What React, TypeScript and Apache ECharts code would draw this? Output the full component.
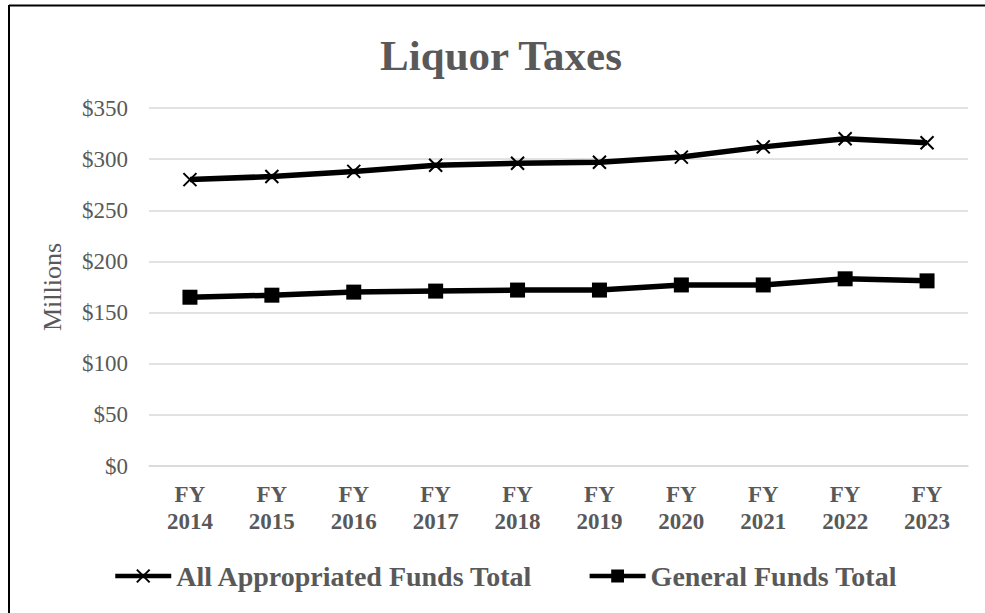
import React, { useEffect, useRef } from "react";
import * as echarts from "echarts";

const categories = ["FY\n2014", "FY\n2015", "FY\n2016", "FY\n2017", "FY\n2018", "FY\n2019", "FY\n2020", "FY\n2021", "FY\n2022", "FY\n2023"];
const allAppropriated = [280, 283, 288, 294, 296, 297, 302, 312, 320, 316];
const generalFunds = [165, 167, 170, 171, 172, 172, 177, 177, 183, 181];
const seriesNames = ["All Appropriated Funds Total", "General Funds Total"];

const FONT = "'Liberation Serif', 'Times New Roman', serif";
const GREY = "#595959";

export default function App() {
  const ref = useRef<HTMLDivElement>(null);
  useEffect(() => {
    if (!ref.current) return;
    const chart = echarts.init(ref.current, undefined, { renderer: "svg" });
    chart.setOption({
      animation: false,
      backgroundColor: "#ffffff",
      title: {
        text: "Liquor Taxes",
        left: 496,
        textAlign: "center",
        top: 29,
        textStyle: { fontFamily: FONT, fontSize: 43, fontWeight: "bold", color: GREY },
      },
      graphic: [
        { type: "line", shape: { x1: 9, y1: 5.5, x2: 985, y2: 5.5 }, style: { stroke: "#000", lineWidth: 2 } },
        { type: "line", shape: { x1: 9, y1: 5, x2: 9, y2: 613 }, style: { stroke: "#000", lineWidth: 2 } },
      ],
      legend: {
        left: 113,
        top: 562,
        padding: 0,
        itemWidth: 56,
        itemHeight: 16,
        itemGap: 54,
        data: seriesNames,
        lineStyle: { width: 4.5, color: "#000" },
        textStyle: { fontFamily: FONT, fontSize: 28, fontWeight: "bold", color: GREY },
      },
      grid: { left: 149, right: 17, top: 108, bottom: 147 },
      xAxis: {
        type: "category",
        data: categories,
        boundaryGap: true,
        axisLine: { show: true, lineStyle: { color: "#d9d9d9", width: 1.5 } },
        axisTick: { show: false },
        axisLabel: {
          fontFamily: FONT,
          fontSize: 23,
          fontWeight: "bold",
          color: GREY,
          lineHeight: 27,
          margin: 15,
          interval: 0,
        },
      },
      yAxis: {
        type: "value",
        min: 0,
        max: 350,
        interval: 50,
        name: "Millions",
        nameLocation: "middle",
        nameGap: 84,
        nameTextStyle: { fontFamily: FONT, fontSize: 26, color: GREY },
        axisLine: { show: false },
        axisTick: { show: false },
        splitLine: { lineStyle: { color: "#d9d9d9", width: 1.5 } },
        axisLabel: {
          fontFamily: FONT,
          fontSize: 23,
          color: GREY,
          margin: 21,
          formatter: (v: number) => "$" + v,
        },
      },
      series: [
        {
          name: seriesNames[0],
          type: "line",
          data: allAppropriated,
          symbol: "path://M0,0L10,10M10,0L0,10",
          symbolSize: 13,
          lineStyle: { color: "#000", width: 5.5 },
          itemStyle: { color: "#000", borderColor: "#000", borderWidth: 2 },
        },
        {
          name: seriesNames[1],
          type: "line",
          data: generalFunds,
          symbol: "rect",
          symbolSize: 15,
          lineStyle: { color: "#000", width: 5.5 },
          itemStyle: { color: "#000" },
        },
      ],
    });
    return () => chart.dispose();
  }, []);
  return (
    <div
      ref={ref}
      style={{ position: "fixed", left: 0, top: 0, width: 985, height: 613, background: "#fff" }}
    />
  );
}
